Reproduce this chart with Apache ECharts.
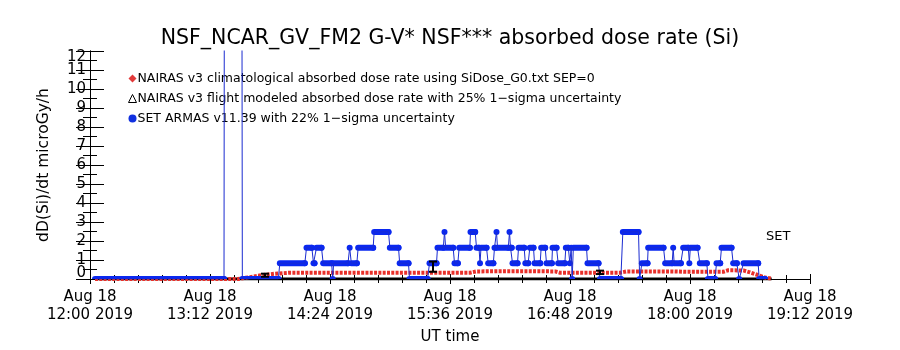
<!DOCTYPE html>
<html>
<head>
<meta charset="utf-8">
<title>NSF_NCAR_GV_FM2 absorbed dose rate</title>
<script src="https://cdn.jsdelivr.net/npm/echarts@6/dist/echarts.min.js"></script>
<style>
  html, body { margin: 0; padding: 0; background: #fff; }
  #chart { width: 900px; height: 350px; }
</style>
</head>
<body>
<div id="chart"></div>
<script>
// time is in minutes after 12:00 UT, Aug 18 2019
const tickLabels = ['12:00', '13:12', '14:24', '15:36', '16:48', '18:00', '19:12']
const yEndLabels = [0, 12]

// SET ARMAS v11.39 (blue)
const setTimes = [
  3, 20, 40, 60, 80.4, 80.9, 90.8, 91.4, 100, 113,
  113.9, 128.9, 129.9, 133.1, 134.1, 134.7, 135.9, 138.9, 139.9, 145, 145.6, 146.2, 154.8, 155.8, 156.8, 160.1,
  160.9, 169.9, 170.5, 179.1, 179.9, 185.1, 185.8, 191.1, 191.7, 197, 202.5,
  203.7, 207.9, 208.5, 212, 212.7, 213.4, 217.9, 218.7, 220.7, 221.5, 227.9, 228.3, 231.1,
  231.9, 233.4, 234, 234.6, 237.9, 238.9, 242, 242.7, 243.3, 243.9, 244.5, 251, 251.7, 252.3, 253,
  253.5, 256.5, 257.1, 260.5, 261.2, 262.9, 263.9, 266.1, 266.7, 270.1, 270.7, 273.1, 273.9, 277.1, 277.5, 279.9,
  280.9, 284.9, 285.5, 287, 287.9, 288.7, 289.3, 290, 297.9, 298.5, 305.1, 306, 312, 318.5,
  319.7, 329.1, 329.8, 331.1, 334.5, 334.9, 344.1, 345.1, 349.3, 349.9, 350.5, 354.5,
  355.9, 359, 359.6, 360.2, 364.5, 365.9, 370.1, 370.8, 375, 375.9, 378.1, 378.9, 384.9, 385.9, 388.1, 389.5,
  392.1, 400.9, 401.5, 405
]
const setValues = [
  0, 0, 0, 0, 0, 40, 40, 0, 0, 0,
  0.83, 0.83, 1.65, 1.65, 0.83, 0.83, 1.65, 1.65, 0.83, 0.83, 0, 0.83, 0.83, 1.65, 0.83, 0.83,
  1.65, 1.65, 2.48, 2.48, 1.65, 1.65, 0.83, 0.83, 0, 0, 0,
  0.83, 0.83, 1.65, 1.65, 2.48, 1.65, 1.65, 0.83, 0.83, 1.65, 1.65, 2.48, 2.48,
  1.65, 1.65, 0.83, 1.65, 1.65, 0.83, 0.83, 1.65, 1.65, 2.48, 1.65, 1.65, 2.48, 1.65, 1.65,
  0.83, 0.83, 1.65, 1.65, 0.83, 0.83, 1.65, 1.65, 0.83, 0.83, 1.65, 1.65, 0.83, 0.83, 1.65, 1.65,
  0.83, 0.83, 1.65, 1.65, 0.83, 1.65, 0, 1.65, 1.65, 0.83, 0.83, 0, 0, 0,
  2.48, 2.48, 0, 0.83, 0.83, 1.65, 1.65, 0.83, 0.83, 1.65, 0.83, 0.83,
  1.65, 1.65, 0.83, 1.65, 1.65, 0.83, 0.83, 0, 0, 0.83, 0.83, 1.65, 1.65, 0.83, 0.83, 0,
  0.83, 0.83, 0, 0
]

// NAIRAS v3 climatological (red)
const nairasTimes = [3, 30, 60, 88.8, 96, 103, 111, 120, 150, 190, 228, 232, 255, 279, 282, 300, 318, 322, 350, 356, 380, 383, 392, 396, 401, 405, 409]
const nairasValues = [0, 0, 0, 0, 0.1, 0.2, 0.28, 0.33, 0.33, 0.33, 0.33, 0.4, 0.41, 0.4, 0.33, 0.33, 0.33, 0.4, 0.4, 0.38, 0.38, 0.46, 0.45, 0.35, 0.2, 0.08, 0.02]

// NAIRAS v3 flight modeled (black) with 1-sigma bars
const flightTimes = [3, 100, 200, 300, 409]
const flightValues = [0, 0, 0, 0, 0]
const flightBarTimes = [105, 205.8, 306]
const flightBarValues = [0.2, 0.65, 0.35]
const flightBarSigma = [0.08, 0.27, 0.09]

const FONT = 'DejaVu Sans'

let setTrace = setTimes.map((t, i) => [t, setValues[i]])
// each blob runs to the next point when it stays on the same level
let setBlobs = setTimes.map((t, i) => {
    let tEnd = t
    if (i + 1 < setTimes.length && setValues[i + 1] === setValues[i]) tEnd = setTimes[i + 1]
    return [t, setValues[i], tEnd]
})

let chartDom = document.getElementById('chart')
let myChart = echarts.init(chartDom)

let option = {
    animation: false,
    backgroundColor: '#fff',
    title: {
        text: 'NSF_NCAR_GV_FM2 G-V* NSF*** absorbed dose rate (Si)',
        left: 'center',
        top: 23,
        textStyle: { fontFamily: FONT, fontSize: 20.5, fontWeight: 'normal', color: '#000' },
    },
    legend: {
        orient: 'vertical',
        left: 123,
        top: 67,
        itemWidth: 8,
        itemHeight: 8,
        itemGap: 7,
        textStyle: { fontFamily: FONT, fontSize: 12.5, color: '#000', padding: [0, 0, 0, -4] },
        data: [
            { name: 'NAIRAS v3 climatological absorbed dose rate using SiDose_G0.txt SEP=0', icon: 'diamond', itemStyle: { color: '#e23a3a' } },
            { name: 'NAIRAS v3 flight modeled absorbed dose rate with 25% 1\u2212sigma uncertainty', icon: 'triangle', itemStyle: { color: '#fff', borderColor: '#000', borderWidth: 1 } },
            { name: 'SET ARMAS v11.39 with 22% 1\u2212sigma uncertainty', icon: 'circle', itemStyle: { color: '#1030e0' } },
        ],
    },
    graphic: [
        { type: 'text', left: 766, top: 230, style: { text: 'SET', fontFamily: FONT, fontSize: 13, fill: '#000' } },
    ],
    grid: { left: 90, right: 90, top: 51, bottom: 71 },
    xAxis: [
        {
            type: 'value',
            min: 0,
            max: 432,
            interval: 72,
            name: 'UT time',
            nameLocation: 'middle',
            nameGap: 51,
            nameTextStyle: { fontFamily: FONT, fontSize: 15, color: '#000' },
            axisLine: { lineStyle: { color: '#000', width: 1 } },
            axisTick: { inside: true, length: 5, lineStyle: { color: '#000' } },
            minorTick: { show: true, splitNumber: 5, length: 4, lineStyle: { color: '#000' } },
            splitLine: { show: false },
            axisLabel: {
                margin: 9,
                fontFamily: FONT,
                fontSize: 15,
                lineHeight: 18,
                color: '#000',
                showMinLabel: true,
                showMaxLabel: true,
                formatter: (v) => 'Aug 18\n' + tickLabels[Math.round(v / 72)] + ' 2019',
            },
        },
        {
            type: 'value',
            position: 'top',
            min: 0,
            max: 432,
            interval: 72,
            axisLine: { show: true, lineStyle: { color: '#000' } },
            axisTick: { inside: true, length: 5, lineStyle: { color: '#000' } },
            minorTick: { show: true, splitNumber: 5, length: 4, lineStyle: { color: '#000' } },
            axisLabel: { show: false },
            splitLine: { show: false },
        },
    ],
    yAxis: [
        {
            type: 'value',
            min: 0,
            max: 12,
            interval: 1,
            name: 'dD(Si)/dt microGy/h',
            nameLocation: 'middle',
            nameGap: 38,
            nameTextStyle: { fontFamily: FONT, fontSize: 15.5, color: '#000' },
            axisLine: { show: true, lineStyle: { color: '#000' } },
            axisTick: { inside: true, length: 14, lineStyle: { color: '#000' } },
            minorTick: { show: true, splitNumber: 2, length: 7, lineStyle: { color: '#000' } },
            splitLine: { show: false },
            axisLabel: {
                margin: 4,
                fontFamily: FONT,
                fontSize: 15,
                color: '#000',
                showMinLabel: true,
                showMaxLabel: true,
                // the end labels are drawn by the helper axis below
                formatter: (v) => (yEndLabels.includes(v) ? '' : String(v)),
            },
        },
        {
            type: 'value',
            position: 'right',
            min: 0,
            max: 12,
            interval: 1,
            axisLine: { show: true, lineStyle: { color: '#000' } },
            axisTick: { inside: true, length: 14, lineStyle: { color: '#000' } },
            minorTick: { show: true, splitNumber: 2, length: 7, lineStyle: { color: '#000' } },
            axisLabel: { show: false },
            splitLine: { show: false },
        },
        {
            type: 'value',
            position: 'left',
            min: 0,
            max: 12,
            axisLine: { show: false },
            axisTick: { show: false },
            splitLine: { show: false },
            axisLabel: {
                margin: 4,
                fontFamily: FONT,
                fontSize: 15,
                lineHeight: 12,
                color: '#000',
                customValues: yEndLabels,
                showMinLabel: true,
                showMaxLabel: true,
                verticalAlignMinLabel: 'bottom',
                verticalAlignMaxLabel: 'top',
            },
        },
    ],
    series: [
        {
            name: 'NAIRAS v3 flight modeled absorbed dose rate with 25% 1\u2212sigma uncertainty',
            type: 'line',
            data: flightTimes.map((t, i) => [t, flightValues[i]]),
            symbol: 'none',
            color: '#000',
            lineStyle: { color: '#000', width: 3 },
            z: 3,
        },
        {
            name: 'flight bars',
            type: 'custom',
            data: flightBarTimes.map((t, i) => [t, flightBarValues[i], flightBarSigma[i]]),
            renderItem: (params, api) => {
                let t = api.value(0)
                let v = api.value(1)
                let s = api.value(2)
                let hi = api.coord([t, v + s])
                let lo = api.coord([t, v - s])
                let x = hi[0]
                return {
                    type: 'group',
                    children: [
                        { type: 'line', shape: { x1: x, y1: hi[1], x2: x, y2: lo[1] }, style: { stroke: '#000', lineWidth: 2 } },
                        { type: 'line', shape: { x1: x - 4, y1: hi[1], x2: x + 4, y2: hi[1] }, style: { stroke: '#000', lineWidth: 2 } },
                        { type: 'line', shape: { x1: x - 4, y1: lo[1], x2: x + 4, y2: lo[1] }, style: { stroke: '#000', lineWidth: 2 } },
                    ],
                }
            },
            z: 6,
        },
        {
            name: 'NAIRAS v3 climatological absorbed dose rate using SiDose_G0.txt SEP=0',
            type: 'line',
            data: nairasTimes.map((t, i) => [t, nairasValues[i]]),
            symbol: 'none',
            color: '#e23a3a',
            lineStyle: { color: '#e8302a', width: 4, type: [3, 1.3] },
            z: 4,
        },
        {
            name: 'SET ARMAS v11.39 with 22% 1\u2212sigma uncertainty',
            type: 'line',
            data: setTrace,
            symbol: 'none',
            color: '#1030e0',
            lineStyle: { color: '#1a2bd0', width: 1 },
            z: 5,
        },
        {
            name: 'set blobs',
            type: 'custom',
            data: setBlobs,
            renderItem: (params, api) => {
                let a = api.coord([api.value(0), api.value(1)])
                let b = api.coord([api.value(2), api.value(1)])
                return {
                    type: 'rect',
                    shape: { x: a[0] - 3, y: a[1] - 3, width: b[0] - a[0] + 6, height: 6, r: 3 },
                    style: { fill: '#0a28f0' },
                }
            },
            clip: true,
            z: 5,
        },
    ],
}

option && myChart.setOption(option)
window.addEventListener('resize', myChart.resize)
</script>
</body>
</html>
